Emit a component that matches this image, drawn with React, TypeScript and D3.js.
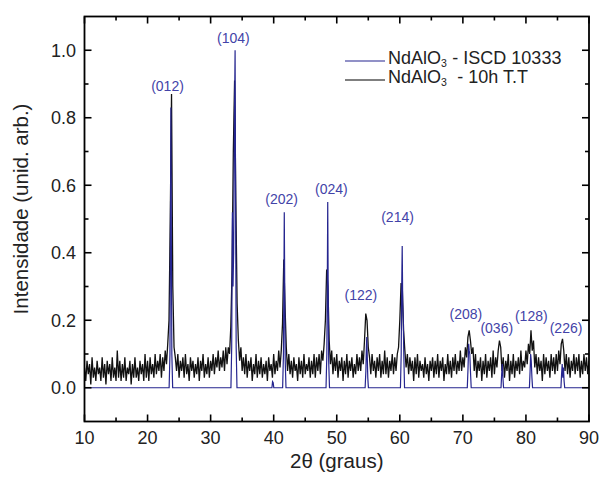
import * as d3 from "d3";

// measured pattern: intensity every 0.2 deg, starting at 10 deg
const X_START = 10;
const X_STEP = 0.2;
const measured = [
  0.06, 0.02, 0.08, 0.04, 0.07, 0.01, 0.09, 0.03, 0.06, 0.02,
  0.08, 0.04, 0.06, 0.02, 0.09, 0.03, 0.07, 0.01, 0.08, 0.04,
  0.07, 0.02, 0.09, 0.03, 0.06, 0.02, 0.11, 0.03, 0.08, 0.02,
  0.07, 0.03, 0.09, 0.02, 0.06, 0.04, 0.08, 0.01, 0.07, 0.03,
  0.09, 0.03, 0.06, 0.02, 0.08, 0.04, 0.07, 0.02, 0.10, 0.03,
  0.08, 0.02, 0.09, 0.04, 0.07, 0.03, 0.10, 0.04, 0.08, 0.05,
  0.10, 0.03, 0.09, 0.05, 0.11, 0.07, 0.13, 0.20, 0.50, 0.87,
  0.30, 0.12, 0.09, 0.05, 0.10, 0.03, 0.08, 0.05, 0.09, 0.03,
  0.10, 0.04, 0.07, 0.02, 0.09, 0.05, 0.08, 0.03, 0.07, 0.04,
  0.09, 0.02, 0.08, 0.05, 0.10, 0.03, 0.07, 0.04, 0.09, 0.03,
  0.08, 0.05, 0.10, 0.04, 0.09, 0.06, 0.11, 0.05, 0.09, 0.06,
  0.11, 0.05, 0.12, 0.07, 0.12, 0.10, 0.18, 0.35, 0.70, 0.91,
  0.55, 0.25, 0.14, 0.08, 0.12, 0.05, 0.09, 0.04, 0.10, 0.03,
  0.08, 0.05, 0.09, 0.02, 0.07, 0.04, 0.10, 0.03, 0.08, 0.04,
  0.09, 0.03, 0.07, 0.04, 0.08, 0.02, 0.09, 0.05, 0.07, 0.03,
  0.10, 0.04, 0.08, 0.05, 0.11, 0.06, 0.11, 0.19, 0.38, 0.24,
  0.12, 0.05, 0.10, 0.04, 0.08, 0.03, 0.09, 0.05, 0.07, 0.02,
  0.09, 0.04, 0.08, 0.03, 0.10, 0.04, 0.07, 0.05, 0.09, 0.03,
  0.08, 0.04, 0.10, 0.03, 0.09, 0.05, 0.10, 0.04, 0.11, 0.08,
  0.13, 0.20, 0.35, 0.30, 0.14, 0.07, 0.11, 0.04, 0.09, 0.05,
  0.10, 0.03, 0.08, 0.05, 0.09, 0.02, 0.08, 0.04, 0.10, 0.03,
  0.08, 0.05, 0.09, 0.03, 0.07, 0.04, 0.10, 0.05, 0.09, 0.05,
  0.11, 0.07, 0.14, 0.22, 0.20, 0.12, 0.09, 0.04, 0.10, 0.05,
  0.08, 0.03, 0.09, 0.05, 0.10, 0.03, 0.08, 0.04, 0.11, 0.04,
  0.09, 0.03, 0.08, 0.05, 0.10, 0.04, 0.09, 0.05, 0.10, 0.12,
  0.20, 0.31, 0.29, 0.17, 0.11, 0.06, 0.10, 0.04, 0.09, 0.05,
  0.08, 0.02, 0.09, 0.04, 0.10, 0.03, 0.08, 0.05, 0.07, 0.03,
  0.09, 0.04, 0.07, 0.02, 0.08, 0.05, 0.09, 0.03, 0.08, 0.04,
  0.10, 0.03, 0.08, 0.05, 0.09, 0.02, 0.07, 0.04, 0.10, 0.04,
  0.08, 0.03, 0.09, 0.05, 0.10, 0.04, 0.08, 0.05, 0.11, 0.05,
  0.09, 0.06, 0.12, 0.09, 0.15, 0.17, 0.14, 0.10, 0.12, 0.05,
  0.10, 0.03, 0.08, 0.05, 0.09, 0.02, 0.08, 0.04, 0.10, 0.03,
  0.08, 0.05, 0.09, 0.03, 0.11, 0.04, 0.09, 0.06, 0.11, 0.14,
  0.12, 0.05, 0.09, 0.03, 0.08, 0.05, 0.10, 0.02, 0.08, 0.04,
  0.10, 0.03, 0.08, 0.05, 0.09, 0.04, 0.11, 0.05, 0.08, 0.06,
  0.11, 0.07, 0.13, 0.10, 0.17, 0.11, 0.14, 0.06, 0.10, 0.04,
  0.09, 0.05, 0.08, 0.02, 0.10, 0.04, 0.09, 0.05, 0.08, 0.03,
  0.10, 0.05, 0.09, 0.04, 0.10, 0.05, 0.11, 0.07, 0.13, 0.145,
  0.11, 0.05, 0.10, 0.04, 0.09, 0.03, 0.08, 0.05, 0.10, 0.04,
  0.09, 0.05, 0.10, 0.03, 0.08, 0.04, 0.10, 0.05, 0.09, 0.04,
  0.08,
];

// reference pattern (ICSD 10333): [2theta, intensity]
const reference: [number, number][] = [
  [10, 0],
  [23.42, 0], [23.55, 0.1], [23.63, 0.45], [23.7, 0.83], [23.77, 0.45], [23.85, 0.1], [23.98, 0],
  [33.22, 0], [33.34, 0.12], [33.45, 0.52], [33.55, 0.3], [33.65, 0.4], [33.78, 0.8], [33.88, 1.0], [33.96, 0.55], [34.05, 0.12], [34.18, 0],
  [39.72, 0], [39.82, 0.018], [39.92, 0.015], [40.02, 0],
  [41.42, 0], [41.55, 0.1], [41.62, 0.3], [41.68, 0.52], [41.75, 0.3], [41.83, 0.08], [41.95, 0],
  [48.3, 0], [48.43, 0.1], [48.5, 0.3], [48.57, 0.55], [48.64, 0.3], [48.72, 0.08], [48.85, 0],
  [54.5, 0], [54.62, 0.05], [54.7, 0.12], [54.76, 0.15], [54.83, 0.1], [54.92, 0.03], [55.02, 0],
  [60.1, 0], [60.22, 0.1], [60.3, 0.3], [60.38, 0.42], [60.46, 0.25], [60.55, 0.2], [60.63, 0.1], [60.75, 0],
  [70.7, 0], [70.82, 0.06], [70.92, 0.13], [71.0, 0.11], [71.1, 0.1], [71.2, 0.05], [71.32, 0],
  [76.05, 0], [76.15, 0.04], [76.25, 0.07], [76.35, 0.03], [76.45, 0],
  [80.55, 0], [80.66, 0.05], [80.75, 0.1], [80.84, 0.08], [80.95, 0.03], [81.05, 0],
  [85.55, 0], [85.65, 0.04], [85.75, 0.07], [85.85, 0.03], [85.95, 0.06], [86.05, 0.02], [86.15, 0],
  [90, 0],
];

const peakLabels = [
  { hkl: "(012)", x: 23.16, y: 0.879 },
  { hkl: "(104)", x: 33.6, y: 1.021 },
  { hkl: "(202)", x: 41.27, y: 0.544 },
  { hkl: "(024)", x: 49.14, y: 0.574 },
  { hkl: "(122)", x: 53.82, y: 0.26 },
  { hkl: "(214)", x: 59.64, y: 0.491 },
  { hkl: "(208)", x: 70.47, y: 0.203 },
  { hkl: "(036)", x: 75.37, y: 0.161 },
  { hkl: "(128)", x: 80.85, y: 0.198 },
  { hkl: "(226)", x: 86.36, y: 0.161 },
];

const xMajor = [10, 20, 30, 40, 50, 60, 70, 80, 90];
const xMinor = [15, 25, 35, 45, 55, 65, 75, 85];
const yMajor = [0, 0.2, 0.4, 0.6, 0.8, 1.0];
const yMinor = [0.1, 0.3, 0.5, 0.7, 0.9];

const legendItems = [
  { label: " - ISCD 10333", color: "#25258f" },
  { label: "  - 10h T.T", color: "#000" },
];

const W = 599;
const H = 482;
const left = 84.5, right = 589, top = 16.5, bottom = 421.5;
const FONT = "'Liberation Sans', Arial, sans-serif";
const BLUE = "#25258f";
const LABEL_BLUE = "#4343a8";

export default function App() {
  const x = d3.scaleLinear().domain([10, 90]).range([left, right]);
  const y = d3.scaleLinear().domain([-0.1, 1.1]).range([bottom, top]);

  const measLine = d3
    .line<number>()
    .x((_, i) => x(X_START + i * X_STEP))
    .y((d) => y(d));
  const refLine = d3
    .line<[number, number]>()
    .x((d) => x(d[0]))
    .y((d) => y(d[1]));

  const MAJ = 7, MIN = 4;
  // legend text pieces
  const LF = 18;
  const baseW = 2.945 * LF; // "NdAlO"
  const subW = 0.556 * 10.5 + 0.5;
  const ROW = 19;

  return (
    <svg width={W} height={H} style={{ position: "absolute", left: 0, top: 0, background: "#fff" }}>
      <defs>
        <clipPath id="plot">
          <rect x={left} y={top} width={right - left} height={bottom - top} />
        </clipPath>
      </defs>
      <g clipPath="url(#plot)">
        <path d={measLine(measured) || ""} fill="none" stroke="#111" strokeWidth={1.3} strokeLinejoin="bevel" />
        <path d={refLine(reference) || ""} fill="none" stroke={BLUE} strokeWidth={1.2} />
      </g>

      {/* ticks, inward on all four sides */}
      <g stroke="#000" strokeWidth={1.6}>
        {xMajor.map((t) => (
          <g key={"xm" + t}>
            <line x1={x(t)} x2={x(t)} y1={bottom} y2={bottom - MAJ} />
            <line x1={x(t)} x2={x(t)} y1={top} y2={top + MAJ} />
          </g>
        ))}
        {xMinor.map((t) => (
          <g key={"xn" + t}>
            <line x1={x(t)} x2={x(t)} y1={bottom} y2={bottom - MIN} />
            <line x1={x(t)} x2={x(t)} y1={top} y2={top + MIN} />
          </g>
        ))}
        {yMajor.map((t) => (
          <g key={"ym" + t}>
            <line x1={left} x2={left + MAJ} y1={y(t)} y2={y(t)} />
            <line x1={right} x2={right - MAJ} y1={y(t)} y2={y(t)} />
          </g>
        ))}
        {yMinor.map((t) => (
          <g key={"yn" + t}>
            <line x1={left} x2={left + MIN} y1={y(t)} y2={y(t)} />
            <line x1={right} x2={right - MIN} y1={y(t)} y2={y(t)} />
          </g>
        ))}
      </g>
      <rect x={left} y={top} width={right - left} height={bottom - top} fill="none" stroke="#000" strokeWidth={1.8} />

      {/* tick labels */}
      <g fontFamily={FONT} fontSize={18} fill="#222">
        {xMajor.map((t) => (
          <text key={"xl" + t} x={x(t)} y={444} textAnchor="middle">{t}</text>
        ))}
        {yMajor.map((t) => (
          <text key={"yl" + t} x={76} y={y(t)} dy="0.35em" textAnchor="end">{t.toFixed(1)}</text>
        ))}
      </g>

      {/* axis titles */}
      <text x={(left + right) / 2} y={468} textAnchor="middle" fontFamily={FONT} fontSize={20.5} fill="#222">
        2θ (graus)
      </text>
      <text transform="translate(28,209) rotate(-90)" textAnchor="middle" fontFamily={FONT} fontSize={20.5} fill="#222">
        Intensidade (unid. arb.)
      </text>

      {/* peak labels */}
      <g fontFamily={FONT} fontSize={14} fill={LABEL_BLUE} textAnchor="middle">
        {peakLabels.map((p) => (
          <text key={p.hkl + p.x} x={x(p.x)} y={y(p.y)}>{p.hkl}</text>
        ))}
      </g>

      {/* legend */}
      <g fontFamily={FONT} fill="#222">
        {legendItems.map((it, i) => (
          <g key={i} transform={`translate(0,${i * ROW})`}>
            <line x1={345} x2={385} y1={61} y2={61} stroke={it.color} strokeWidth={1.2} />
            <text x={388} y={63.5} fontSize={LF}>NdAlO</text>
            <text x={388 + baseW} y={66.5} fontSize={10.5}>3</text>
            <text x={388 + baseW + subW} y={63.5} fontSize={LF} style={{ whiteSpace: "pre" }}>{it.label}</text>
          </g>
        ))}
      </g>
    </svg>
  );
}
